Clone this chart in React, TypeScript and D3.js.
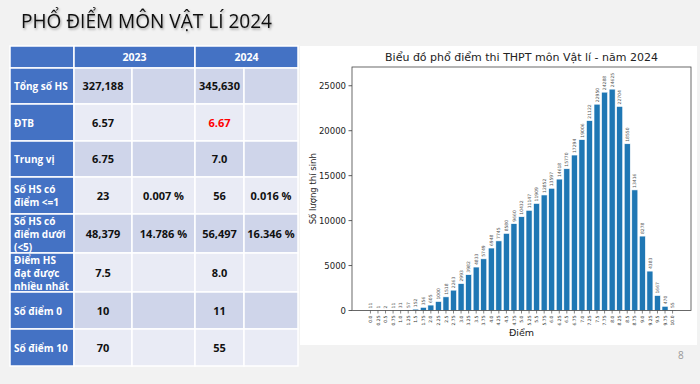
import * as d3 from "d3";

// chart data: score ticks and number of candidates per score
const scoreLabels = [
  "0.0", "0.25", "0.5", "0.75", "1.0", "1.25", "1.5", "1.75", "2.0", "2.25",
  "2.5", "2.75", "3.0", "3.25", "3.5", "3.75", "4.0", "4.25", "4.5", "4.75",
  "5.0", "5.25", "5.5", "5.75", "6.0", "6.25", "6.5", "6.75", "7.0", "7.25",
  "7.5", "7.75", "8.0", "8.25", "8.5", "8.75", "9.0", "9.25", "9.5", "9.75", "10.0",
];
const counts = [
  11, 1, 2, 11, 31, 57, 152, 356, 605, 1000,
  1518, 2263, 2993, 3982, 4833, 5749, 6948, 7745, 8580, 9660,
  10432, 11147, 11909, 12852, 13597, 14618, 15770, 17294, 19006, 21122,
  22950, 24288, 24625, 22704, 18550, 13416, 8278, 4383, 1667, 470, 55,
];
const yTicks = [0, 5000, 10000, 15000, 20000, 25000];

// table data
const years = ["2023", "2024"];
const rowLabels = [
  ["Tổng số HS"],
  ["ĐTB"],
  ["Trung vị"],
  ["Số HS có", "điểm <=1"],
  ["Số HS có", "điểm dưới", "(<5)"],
  ["Điểm HS", "đạt được", "nhiều nhất"],
  ["Số điểm 0"],
  ["Số điểm 10"],
];
const val2023 = ["327,188", "6.57", "6.75", "23", "48,379", "7.5", "10", "70"];
const pct2023 = ["", "", "", "0.007 %", "14.786 %", "", "", ""];
const val2024 = ["345,630", "6.67", "7.0", "56", "56,497", "8.0", "11", "55"];
const pct2024 = ["", "", "", "0.016 %", "16.346 %", "", "", ""];

const colX = [10, 74, 132, 195, 244, 298];
const rowY = [46, 68, 104, 141, 177, 214, 253, 292, 329, 366];

function Table() {
  const font = "'Open Sans', 'Noto Sans', sans-serif";
  const cols = [val2023, pct2023, val2024, pct2024];
  return (
    <g fontFamily={font} fontWeight="bold" fontSize={10.5}>
      {/* header */}
      <rect x={colX[0]} y={rowY[0]} width={colX[1] - colX[0]} height={rowY[1] - rowY[0]} fill="#4472c4" stroke="#fff" strokeWidth={1.5} />
      {years.map((yr, i) => {
        const x0 = colX[1 + i * 2];
        const x1 = colX[3 + i * 2];
        return (
          <g key={yr}>
            <rect x={x0} y={rowY[0]} width={x1 - x0} height={rowY[1] - rowY[0]} fill="#4472c4" stroke="#fff" strokeWidth={1.5} />
            <text x={(x0 + x1) / 2} y={(rowY[0] + rowY[1]) / 2 + 3.5} textAnchor="middle" fill="#fff">{yr}</text>
          </g>
        );
      })}
      {rowLabels.map((lines, r) => {
        const y0 = rowY[r + 1];
        const y1 = rowY[r + 2];
        const bg = r % 2 === 0 ? "#cfd5ea" : "#e9ebf5";
        const mid = (y0 + y1) / 2;
        return (
          <g key={r}>
            <rect x={colX[0]} y={y0} width={colX[1] - colX[0]} height={y1 - y0} fill="#4472c4" stroke="#fff" strokeWidth={1.5} />
            {lines.map((ln, k) => (
              <text key={k} x={14} y={mid + 4 + (k - (lines.length - 1) / 2) * 13} fontSize={10} fill="#fff">{ln}</text>
            ))}
            {cols.map((c, ci) => (
              <g key={ci}>
                <rect x={colX[ci + 1]} y={y0} width={colX[ci + 2] - colX[ci + 1]} height={y1 - y0} fill={bg} stroke="#fff" strokeWidth={1.5} />
                <text
                  x={(colX[ci + 1] + colX[ci + 2]) / 2}
                  y={mid + 4}
                  textAnchor="middle"
                  fontSize={11}
                  fill={ci === 2 && r === 1 ? "#ff0000" : "#111"}
                >
                  {c[r]}
                </text>
              </g>
            ))}
          </g>
        );
      })}
    </g>
  );
}

function BarChart() {
  const left = 352, right = 691, top = 67, bottom = 310.5;
  const n = counts.length;
  const x = d3.scaleLinear().domain([-2.44, n - 1 + 2.44]).range([left, right]);
  const ymax = d3.max(counts)! * 1.1;
  const y = d3.scaleLinear().domain([0, ymax]).range([bottom, top]);
  const bw = x(0.8) - x(0);
  const font = "'DejaVu Sans', sans-serif";

  return (
    <g fontFamily={font}>
      <rect x={300} y={46} width={397} height={299} fill="#fff" />
      <text x={(left + right) / 2} y={61} textAnchor="middle" fontSize={11} fill="#222">
        Biểu đồ phổ điểm thi THPT môn Vật lí - năm 2024
      </text>
      {counts.map((c, i) => (
        <g key={i}>
          <rect
            x={x(i) - bw / 2}
            y={y(c)}
            width={bw}
            height={bottom - y(c)}
            fill="#1f77b4"
            stroke="#fff"
            strokeWidth={0.6}
          />
          <text
            transform={`translate(${x(i) + 1.6},${y(c) - 2}) rotate(-90)`}
            fontSize={4.5}
            fill="#555"
          >
            {c}
          </text>
          <line x1={x(i)} x2={x(i)} y1={bottom} y2={bottom + 3} stroke="#333" strokeWidth={0.6} />
          <text
            transform={`translate(${x(i) + 1.6},${bottom + 5}) rotate(-90)`}
            textAnchor="end"
            fontSize={4.5}
            fill="#333"
          >
            {scoreLabels[i]}
          </text>
        </g>
      ))}
      {yTicks.map((t) => (
        <g key={t}>
          <line x1={left - 3.5} x2={left} y1={y(t)} y2={y(t)} stroke="#333" strokeWidth={0.8} />
          <text x={left - 6} y={y(t) + 3} textAnchor="end" fontSize={8.5} fill="#222">{t}</text>
        </g>
      ))}
      <rect x={left} y={top} width={right - left} height={bottom - top} fill="none" stroke="#444" strokeWidth={0.8} />
      <text transform={`translate(316,${(top + bottom) / 2}) rotate(-90)`} textAnchor="middle" fontSize={8.5} fill="#222">
        Số lượng thí sinh
      </text>
      <text x={(left + right) / 2} y={336} textAnchor="middle" fontSize={9.5} fill="#222">Điểm</text>
    </g>
  );
}

export default function App() {
  return (
    <svg width={700} height={384} style={{ position: "absolute", left: 0, top: 0 }}>
      <defs>
        <filter id="shadow" x="-5%" y="-20%" width="110%" height="160%">
          <feDropShadow dx="1" dy="1.5" stdDeviation="1" floodColor="#000" floodOpacity="0.35" />
        </filter>
      </defs>
      <rect width={700} height={384} fill="#f2f2f2" />
      <text
        x={21}
        y={28}
        fontFamily="'Open Sans', 'Noto Sans', sans-serif"
        fontSize={20}
        textLength={251}
        lengthAdjust="spacingAndGlyphs"
        fill="#111"
        filter="url(#shadow)"
      >
        PHỔ ĐIỂM MÔN VẬT LÍ 2024
      </text>
      <Table />
      <BarChart />
      <text x={678} y={359} fontFamily="'Open Sans', sans-serif" fontSize={10} fill="#999">8</text>
    </svg>
  );
}
